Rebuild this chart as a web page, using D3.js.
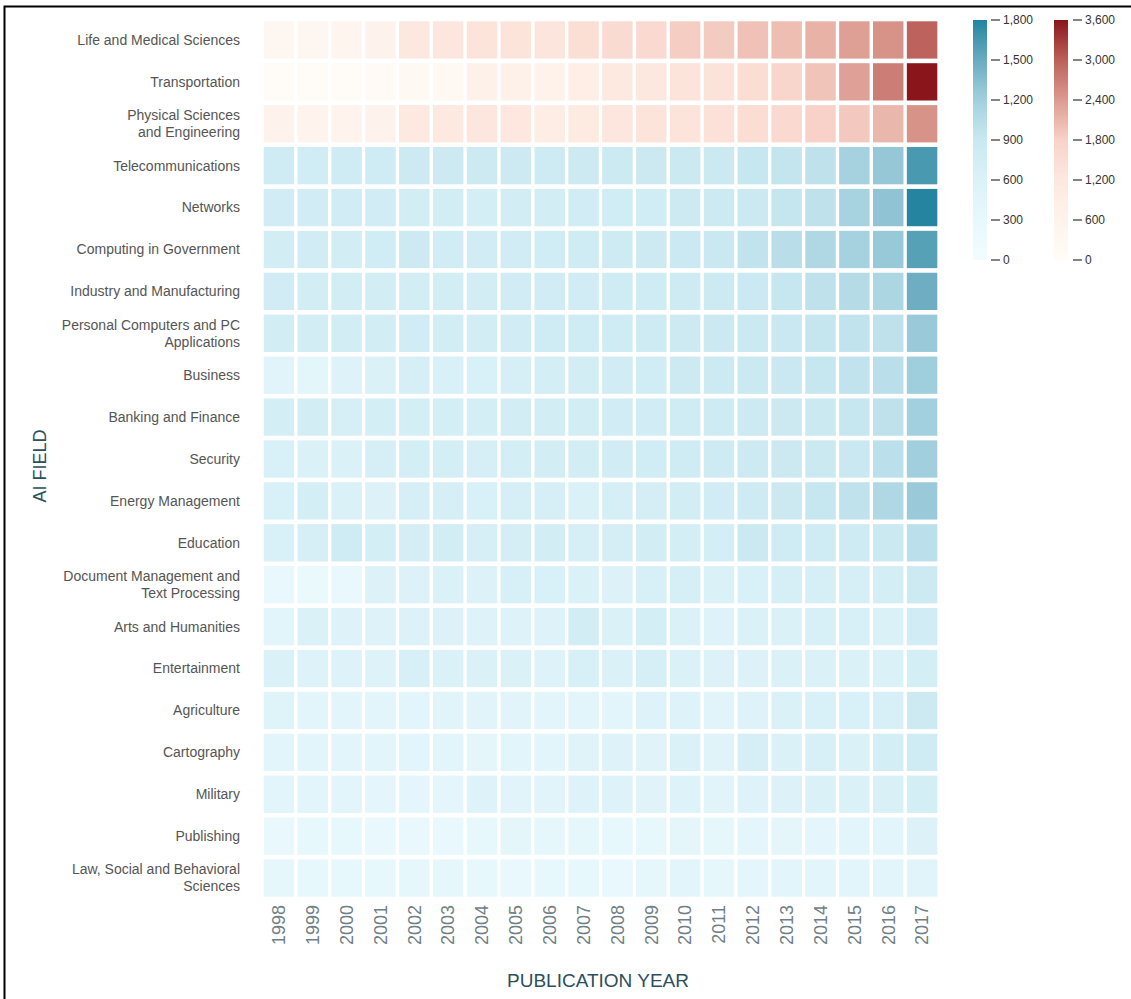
<!DOCTYPE html>
<html>
<head>
<meta charset="utf-8">
<script src="https://cdn.jsdelivr.net/npm/d3@7"></script>
<style>
  html, body { margin: 0; padding: 0; background: #fff; }
  svg { display: block; font-family: "Liberation Sans", Arial, sans-serif; }
</style>
</head>
<body>
<svg id="chart" width="1131" height="999"></svg>
<script>
// AI publications by field and year
const years = ["1998","1999","2000","2001","2002","2003","2004","2005","2006","2007",
               "2008","2009","2010","2011","2012","2013","2014","2015","2016","2017"];

const fields = [
  "Life and Medical Sciences",
  "Transportation",
  "Physical Sciences\nand Engineering",
  "Telecommunications",
  "Networks",
  "Computing in Government",
  "Industry and Manufacturing",
  "Personal Computers and PC\nApplications",
  "Business",
  "Banking and Finance",
  "Security",
  "Energy Management",
  "Education",
  "Document Management and\nText Processing",
  "Arts and Humanities",
  "Entertainment",
  "Agriculture",
  "Cartography",
  "Military",
  "Publishing",
  "Law, Social and Behavioral\nSciences"
];

// Fields drawn with the red scale; all others use the blue scale
const redFields = ["Life and Medical Sciences", "Transportation", "Physical Sciences\nand Engineering"];

// Publication counts, one row per field, one column per year
const counts = [
  [380,420,450,600,1200,1250,1300,1300,1280,1450,1550,1600,1850,1880,1980,2020,2150,2350,2480,2990],
  [80,90,100,120,220,260,700,720,680,880,1150,1180,1300,1350,1500,1700,1950,2330,2700,3600],
  [600,550,550,580,1150,1150,1250,1230,950,1100,1250,1300,1300,1400,1500,1600,1800,1900,2100,2480],
  [800,790,810,800,840,830,840,830,820,840,850,860,880,880,920,940,990,1180,1270,1640],
  [780,770,780,770,760,740,720,740,760,770,790,790,830,850,880,930,990,1170,1300,1790],
  [760,780,760,790,830,790,770,780,790,800,820,830,870,890,960,1030,1100,1180,1260,1580],
  [780,760,740,760,740,760,750,770,780,780,800,800,820,840,870,920,990,1060,1120,1480],
  [760,740,760,740,780,760,740,780,800,800,800,820,840,860,880,900,930,960,990,1250],
  [480,420,560,620,700,660,660,700,720,750,780,790,830,850,880,900,920,960,1010,1220],
  [720,740,700,720,720,720,720,740,760,740,780,780,800,820,840,860,880,920,990,1200],
  [660,640,620,700,720,720,700,720,750,750,770,790,800,820,840,860,880,900,1000,1210],
  [660,720,640,580,690,690,660,690,700,640,690,710,740,780,820,860,920,980,1100,1250],
  [660,690,800,720,710,760,690,710,740,690,710,740,720,720,880,800,800,820,880,1000],
  [280,260,270,600,580,620,580,680,660,640,600,680,700,640,660,700,700,700,720,840],
  [450,640,560,540,580,580,560,540,540,740,620,720,620,560,620,620,680,680,620,780],
  [620,560,560,560,680,640,640,620,560,680,620,700,640,580,580,620,640,620,620,720],
  [520,440,470,470,470,500,500,500,470,440,440,560,560,500,560,620,660,660,680,840],
  [470,440,470,440,470,470,380,440,440,530,560,530,620,530,700,640,680,640,720,800],
  [440,470,470,410,410,410,560,500,500,560,560,530,560,500,560,590,620,620,650,720],
  [290,320,320,290,290,290,320,380,350,350,320,320,380,350,410,380,410,440,440,580],
  [350,320,320,320,350,350,320,290,320,320,290,350,470,350,410,440,440,440,470,500]
];

// Legend tick values
const blueTicks = [0, 300, 600, 900, 1200, 1500, 1800];
const redTicks = [0, 600, 1200, 1800, 2400, 3000, 3600];

const blueColors = ["#f2fcfe", "#e8f8fc", "#dcf2f8", "#c9e8f1", "#a3d0de", "#6aabc0", "#23849f"];
const redColors = ["#fffcf8", "#fef3ec", "#fde8df", "#f8d2c8", "#dc9b90", "#bc615b", "#8a161b"];

const blueScale = d3.scaleLinear().domain(blueTicks).range(blueColors)
  .interpolate(d3.interpolateRgb).clamp(true);
const redScale = d3.scaleLinear().domain(redTicks).range(redColors)
  .interpolate(d3.interpolateRgb).clamp(true);

const svg = d3.select("#chart");

// Frame
svg.append("path")
  .attr("d", "M4.5,999 V6.5 H1131")
  .attr("fill", "none")
  .attr("stroke", "#000")
  .attr("stroke-width", 2);

const x = d3.scaleBand().domain(years).range([262, 939]).paddingInner(0.1).paddingOuter(0.05);
const y = d3.scaleBand().domain(fields).range([19, 899]).paddingInner(0.11).paddingOuter(0.055);

const cells = [];
fields.forEach((f, i) => {
  years.forEach((yr, j) => {
    cells.push({ field: f, year: yr, value: counts[i][j], red: redFields.includes(f) });
  });
});

svg.append("g").selectAll("rect")
  .data(cells)
  .join("rect")
  .attr("x", d => x(d.year))
  .attr("y", d => y(d.field))
  .attr("width", x.bandwidth())
  .attr("height", y.bandwidth())
  .attr("fill", d => d.red ? redScale(d.value) : blueScale(d.value));

// Row labels
const rowLabels = svg.append("g")
  .attr("font-size", 14)
  .attr("fill", "#555")
  .attr("text-anchor", "end");

fields.forEach(f => {
  const lines = f.split("\n");
  const cy = y(f) + y.bandwidth() / 2;
  const lh = 17;
  const t = rowLabels.append("text")
    .attr("x", 240)
    .attr("y", cy - (lines.length - 1) * lh / 2)
    .attr("dy", "0.35em");
  lines.forEach((ln, k) => {
    t.append("tspan")
      .attr("x", 240)
      .attr("dy", k === 0 ? "0.35em" : lh)
      .text(ln);
  });
});

// Year labels
svg.append("g")
  .attr("font-size", 18)
  .attr("fill", "#6f7f85")
  .selectAll("text")
  .data(years)
  .join("text")
  .attr("text-anchor", "end")
  .attr("transform", d => `translate(${x(d) + x.bandwidth() / 2},905) rotate(-90)`)
  .attr("dy", "0.35em")
  .text(d => d);

// Axis titles
svg.append("text")
  .attr("x", 598)
  .attr("y", 987)
  .attr("text-anchor", "middle")
  .attr("font-size", 19)
  .attr("fill", "#2b4f5c")
  .text("PUBLICATION YEAR");

svg.append("text")
  .attr("transform", "translate(46,466) rotate(-90)")
  .attr("text-anchor", "middle")
  .attr("font-size", 18)
  .attr("fill", "#2b4f5c")
  .text("AI FIELD");

// Colour legends
const defs = svg.append("defs");
function legend(id, scale, ticks, x0, tickX) {
  const max = ticks[ticks.length - 1];
  const ly = d3.scaleLinear().domain([0, max]).range([260, 20]);
  const grad = defs.append("linearGradient")
    .attr("id", id)
    .attr("x1", 0).attr("y1", 1).attr("x2", 0).attr("y2", 0);
  d3.range(0, 1.0001, 0.05).forEach(t => {
    grad.append("stop")
      .attr("offset", t)
      .attr("stop-color", scale(t * max));
  });
  svg.append("rect")
    .attr("x", x0)
    .attr("y", ly(max))
    .attr("width", 14)
    .attr("height", ly(0) - ly(max))
    .attr("fill", `url(#${id})`);
  const g = svg.append("g");
  g.selectAll("line")
    .data(ticks)
    .join("line")
    .attr("x1", tickX).attr("x2", tickX + 9)
    .attr("y1", d => ly(d)).attr("y2", d => ly(d))
    .attr("stroke", "#333").attr("stroke-width", 1.2);
  g.selectAll("text")
    .data(ticks)
    .join("text")
    .attr("x", tickX + 12)
    .attr("y", d => ly(d))
    .attr("dy", "0.35em")
    .attr("font-size", 12)
    .attr("fill", "#333")
    .text(d => d3.format(",")(d));
}
legend("blueGrad", blueScale, blueTicks, 973, 991);
legend("redGrad", redScale, redTicks, 1054, 1073);
</script>
</body>
</html>
